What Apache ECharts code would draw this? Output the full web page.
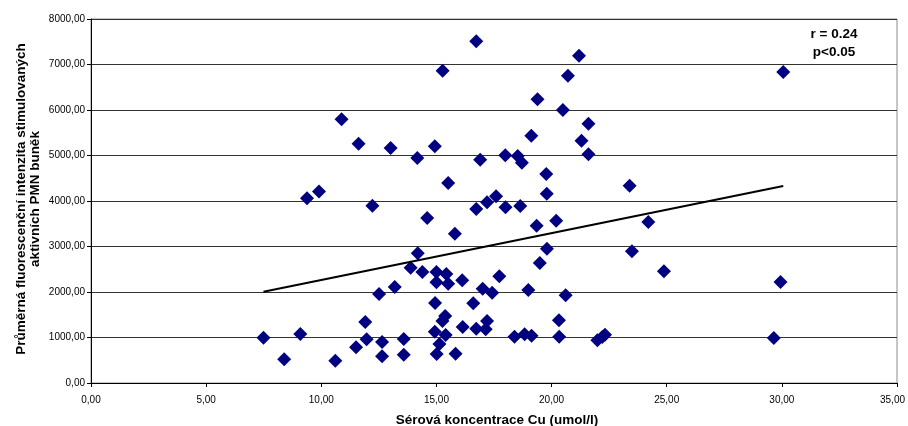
<!DOCTYPE html>
<html>
<head>
<meta charset="utf-8">
<script src="https://cdn.jsdelivr.net/npm/echarts@6/dist/echarts.min.js"></script>
<style>
  html, body { margin: 0; padding: 0; background: #fff; }
  #chart { width: 908px; height: 426px; }
</style>
</head>
<body>
<div id="chart"></div>
<script>
// Serum Cu concentration (umol/l)
const cuValues = [
  7.49, 8.39, 9.09, 9.38, 9.90, 10.61, 10.88, 11.51, 11.62, 11.91,
  11.97, 12.22, 12.51, 12.64, 12.64, 13.01, 13.19, 13.58, 13.58, 13.88,
  14.17, 14.19, 14.39, 14.60, 14.93, 14.94, 15.00, 15.00, 14.93, 15.01,
  15.13, 15.27, 15.26, 15.38, 15.43, 15.51, 15.51, 15.40, 15.80, 15.83,
  16.12, 16.14, 16.60, 16.73, 16.73, 16.73, 16.90, 17.01, 17.14, 17.20,
  17.20, 17.42, 17.59, 17.73, 18.00, 17.99, 18.39, 18.53, 18.64, 18.71,
  18.83, 18.99, 19.12, 19.13, 19.35, 19.39, 19.49, 19.77, 19.79, 19.80,
  20.20, 20.32, 20.33, 20.49, 20.61, 20.71, 21.19, 21.30, 21.60, 21.60,
  21.99, 22.20, 22.32, 23.39, 23.49, 24.20, 24.88, 29.65, 29.94, 30.06
];
// Mean fluorescence intensity of stimulated active PMN cells
const intensityValues = [
  996, 521, 1077, 4059, 4209, 490, 5796, 785, 5259, 1341,
  961, 3897, 1956, 901, 587, 5165, 2110, 967, 622, 2534,
  4945, 2850, 2440, 3626, 5202, 1758, 2440, 2213, 1127, 637,
  857, 6864, 1363, 1473, 2396, 2182, 4396, 1055, 3281, 644,
  2257, 1231, 1752, 3824, 7510, 1193, 4908, 2073, 1180, 1363,
  3971, 1985, 4105, 2345, 3861, 5004, 1018, 4989, 3890, 4842,
  1070, 2044, 5435, 1040, 3457, 6235, 2637, 4593, 4158, 2952,
  3567, 1378, 1018, 6000, 1927, 6754, 7193, 5325, 5699, 5026,
  938, 1011, 1062, 4336, 2894, 3538, 2455, 989, 2220, 6835
];
// Linear trend line endpoints
const trendX = [7.49, 30.06];
const trendY = [2007, 4328];

const xTicks = { min: 0, max: 35, interval: 5 };
const yTicks = { min: 0, max: 8000, interval: 1000 };

const statLines = ['r = 0.24', 'p<0.05'];
const xTitle = 'Sérová koncentrace Cu (umol/l)';
const yTitle = ['Průměrná fluorescenční intenzita stimulovaných', 'aktivních PMN buněk'];

const points = cuValues.map((x, i) => [x, intensityValues[i]]);
const trend = trendX.map((x, i) => [x, trendY[i]]);
const fmt = v => v.toFixed(2).replace('.', ',');
// the last x label is nudged left so it stays inside the canvas
const fmtX = v => v === xTicks.max ? '{edge|' + fmt(v) + '}' : fmt(v);
const FONT = '"Liberation Sans", Arial, sans-serif';

const chart = echarts.init(document.getElementById('chart'), null, { renderer: 'canvas' });
chart.setOption({
  animation: false,
  backgroundColor: '#ffffff',
  grid: {
    left: 91, right: 11, top: 19, bottom: 43,
    outerBoundsMode: 'none',
    containLabel: false,
    show: true, borderColor: '#8c8c8c', borderWidth: 1, backgroundColor: '#ffffff'
  },
  xAxis: {
    type: 'value',
    min: xTicks.min, max: xTicks.max, interval: xTicks.interval,
    name: xTitle,
    nameLocation: 'middle',
    nameGap: 30,
    nameTextStyle: { fontFamily: FONT, fontSize: 13.5, fontWeight: 'bold', color: '#000', padding: [0, 0, 0, 6] },
    axisLine: { show: true, onZero: false, lineStyle: { color: '#000', width: 1 } },
    axisTick: { show: true, length: 4, lineStyle: { color: '#000' } },
    axisLabel: {
      formatter: fmtX, fontFamily: FONT, fontSize: 10, color: '#000', margin: 12,
      rich: { edge: { fontFamily: FONT, fontSize: 10, color: '#000', padding: [0, 9, 0, 0] } }
    },
    splitLine: { show: false }
  },
  yAxis: {
    type: 'value',
    min: yTicks.min, max: yTicks.max, interval: yTicks.interval,
    axisLine: { show: true, onZero: false, lineStyle: { color: '#000', width: 1 } },
    axisTick: { show: true, length: 4, lineStyle: { color: '#000' } },
    axisLabel: { formatter: fmt, fontFamily: FONT, fontSize: 10, color: '#000', margin: 6 },
    splitLine: { show: true, lineStyle: { color: '#333333', width: 1 } }
  },
  series: [
    {
      type: 'scatter',
      data: points,
      symbol: 'diamond',
      symbolSize: 14,
      itemStyle: { color: '#000080', opacity: 1 },
      emphasis: { disabled: true },
      z: 3
    },
    {
      type: 'line',
      data: trend,
      symbol: 'none',
      lineStyle: { color: '#000', width: 2 },
      z: 4
    }
  ],
  graphic: [
    {
      type: 'text',
      x: 834, y: 25,
      style: {
        text: statLines.join('\n'),
        font: 'bold 13.5px ' + FONT,
        fill: '#000',
        align: 'center',
        lineHeight: 18
      }
    },
    {
      type: 'text',
      x: 28, y: 199,
      rotation: Math.PI / 2,
      style: {
        text: yTitle.join('\n'),
        font: 'bold 13.5px ' + FONT,
        fill: '#000',
        align: 'center',
        verticalAlign: 'middle',
        lineHeight: 14
      }
    }
  ]
});
</script>
</body>
</html>
